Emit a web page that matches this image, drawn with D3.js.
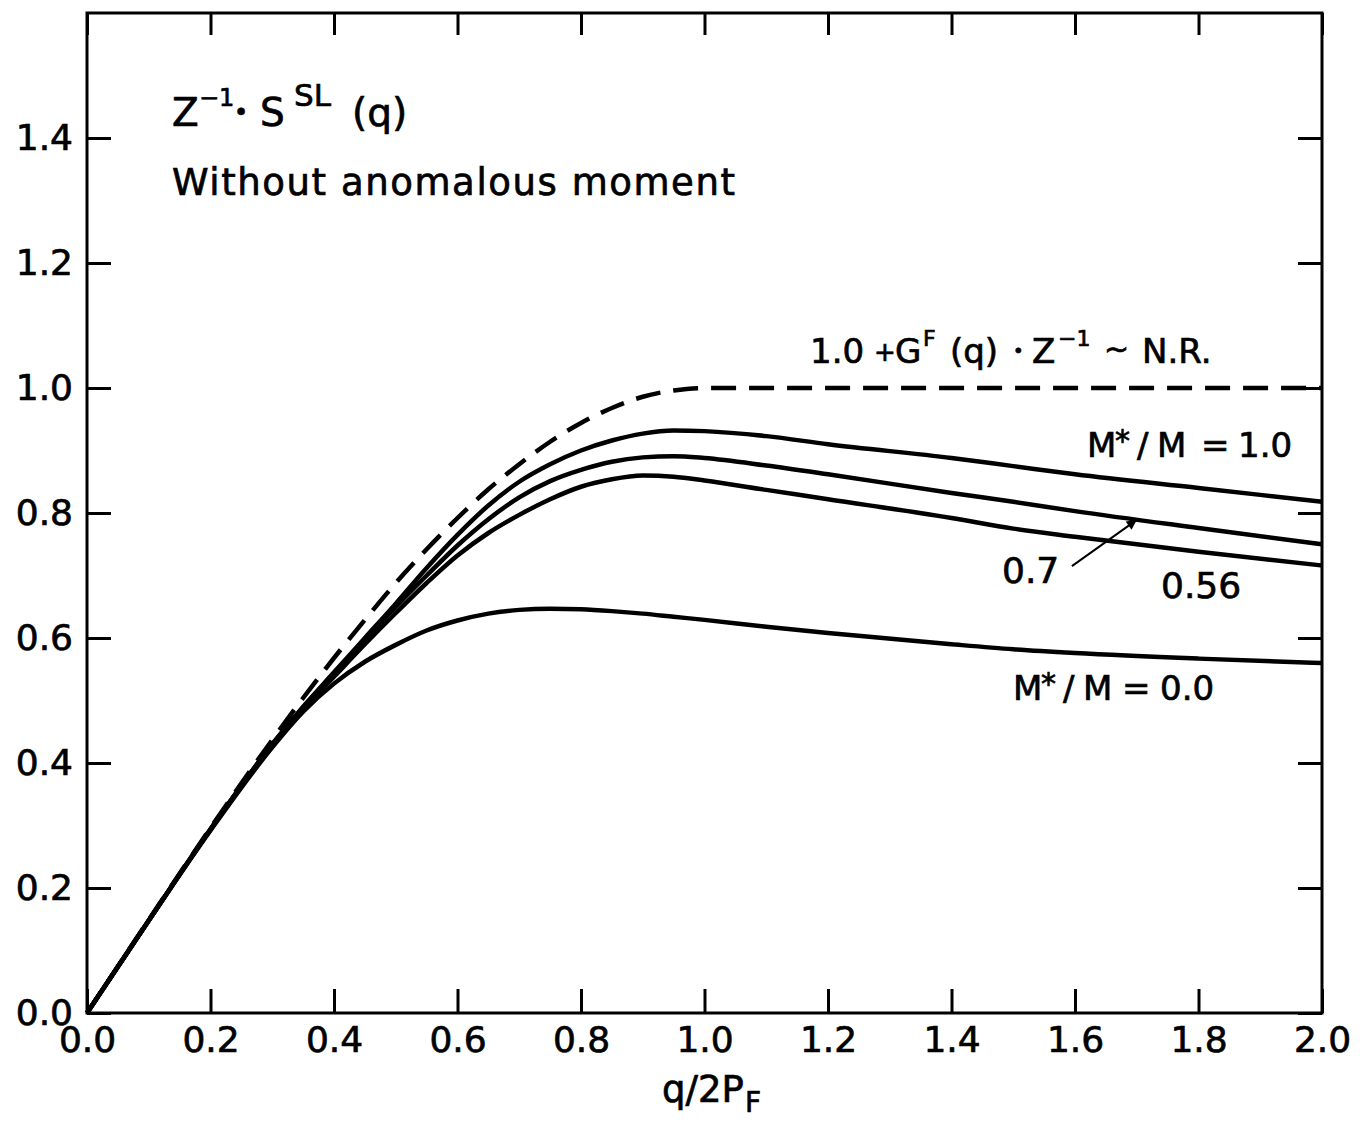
<!DOCTYPE html>
<html>
<head>
<meta charset="utf-8">
<script src="https://cdn.jsdelivr.net/npm/d3@7"></script>
<style>
body { margin: 0; background: #fff; }
text { font-family: "DejaVu Sans", sans-serif; fill: #000; stroke: #000; stroke-width: 0.7px; }
</style>
</head>
<body>
<div class="chart"></div>
<script>
// q / 2P_F grid the curves were read at
var qValues = [0, 0.1, 0.2, 0.3, 0.35, 0.4, 0.45, 0.5, 0.55, 0.6, 0.65, 0.7, 0.75, 0.8, 0.85, 0.9, 0.95, 1.0, 1.1, 1.2, 1.4, 1.5, 1.6, 1.8, 2.0];
// dashed: 1.0 + G^F(q) Z^-1 ~ N.R.
var nrValues   = [0, 0.149, 0.296, 0.437, 0.504, 0.568, 0.629, 0.688, 0.742, 0.792, 0.838, 0.878, 0.914, 0.944, 0.968, 0.986, 0.996, 1.0, 1.0, 1.0, 1.0, 1.0, 1.0, 1.0, 1.0];
// solid curves, M*/M = 1.0, 0.7, 0.56, 0.0
var m10Values  = [0, 0.148, 0.294, 0.430, 0.490, 0.545, 0.600, 0.655, 0.712, 0.765, 0.812, 0.850, 0.878, 0.900, 0.916, 0.927, 0.932, 0.931, 0.923, 0.910, 0.888, 0.875, 0.862, 0.840, 0.818];
var m07Values  = [0, 0.148, 0.294, 0.430, 0.489, 0.543, 0.597, 0.650, 0.700, 0.748, 0.790, 0.825, 0.851, 0.869, 0.882, 0.889, 0.891, 0.888, 0.876, 0.862, 0.832, 0.818, 0.803, 0.776, 0.750];
var m056Values = [0, 0.148, 0.294, 0.428, 0.486, 0.538, 0.590, 0.640, 0.688, 0.732, 0.768, 0.797, 0.822, 0.842, 0.854, 0.860, 0.858, 0.852, 0.837, 0.822, 0.792, 0.775, 0.762, 0.738, 0.716];
var m00Values  = [0, 0.148, 0.292, 0.425, 0.482, 0.527, 0.562, 0.589, 0.612, 0.628, 0.639, 0.645, 0.647, 0.646, 0.643, 0.639, 0.634, 0.629, 0.618, 0.608, 0.590, 0.582, 0.576, 0.567, 0.560];

var xTickValues = [0, 0.2, 0.4, 0.6, 0.8, 1.0, 1.2, 1.4, 1.6, 1.8, 2.0];
var yTickValues = [0, 0.2, 0.4, 0.6, 0.8, 1.0, 1.2, 1.4];
var arrowFrom = [1.595, 0.715];
var arrowTo = [1.700, 0.789];

var svg = d3.select('.chart')
	.append('svg')
	.attr('width', 1365)
	.attr('height', 1132)
	.style('background-color', '#fff');

var x = d3.scaleLinear().domain([0, 2]).range([87, 1322]);
var y = d3.scaleLinear().domain([0, 1.6]).range([1013, 13]);

function styleAxis(g, size) {
	g.select('.domain').remove();
	g.selectAll('.tick line').attr('stroke', '#000').attr('stroke-width', 3);
	g.selectAll('.tick text')
		.style('font-size', size + 'px')
		.style('font-family', '"DejaVu Sans", sans-serif')
		.attr('fill', '#000');
}

var fmt = d3.format('.1f');

// bottom and left axes with labels, ticks pointing inwards
svg.append('g')
	.attr('transform', 'translate(0,1013)')
	.call(d3.axisBottom(x).tickValues(xTickValues).tickSize(-24).tickPadding(13).tickFormat(fmt))
	.call(styleAxis, 36);

svg.append('g')
	.attr('transform', 'translate(87,0)')
	.call(d3.axisLeft(y).tickValues(yTickValues).tickSize(-24).tickPadding(14).tickFormat(fmt))
	.call(styleAxis, 36);

// top and right: ticks only
svg.append('g')
	.attr('transform', 'translate(0,13)')
	.call(d3.axisTop(x).tickValues(xTickValues).tickSize(-22).tickFormat(''))
	.call(styleAxis, 10);

svg.append('g')
	.attr('transform', 'translate(1322,0)')
	.call(d3.axisRight(y).tickValues(yTickValues).tickSize(-24).tickFormat(''))
	.call(styleAxis, 10);

svg.append('rect')
	.attr('x', x(0))
	.attr('y', y(1.6))
	.attr('width', x(2) - x(0))
	.attr('height', y(0) - y(1.6))
	.style('fill', 'none')
	.style('stroke', '#000')
	.style('stroke-width', 3);

var line = d3.line()
	.x(function (d) { return x(d[0]); })
	.y(function (d) { return y(d[1]); })
	.curve(d3.curveMonotoneX);

function pairs(vals) {
	return qValues.map(function (q, i) { return [q, vals[i]]; });
}

[m00Values, m056Values, m07Values, m10Values].forEach(function (vals) {
	svg.append('path')
		.datum(pairs(vals))
		.attr('d', line)
		.style('fill', 'none')
		.style('stroke', '#000')
		.style('stroke-width', 4.5)
		.style('stroke-linejoin', 'round');
});

svg.append('path')
	.datum(pairs(nrValues))
	.attr('d', line)
	.style('fill', 'none')
	.style('stroke', '#000')
	.style('stroke-width', 4.5)
	.style('stroke-dasharray', '25,13');

// arrow from the 0.7 label to its curve
svg.append('defs').append('marker')
	.attr('id', 'head')
	.attr('viewBox', '0 0 10 10')
	.attr('refX', 10)
	.attr('refY', 5)
	.attr('markerWidth', 16)
	.attr('markerHeight', 10)
	.attr('markerUnits', 'userSpaceOnUse')
	.attr('orient', 'auto')
	.append('path')
	.attr('d', 'M0,0 L10,5 L0,10 z')
	.style('fill', '#000');

svg.append('line')
	.attr('x1', x(arrowFrom[0]))
	.attr('y1', y(arrowFrom[1]))
	.attr('x2', x(arrowTo[0]))
	.attr('y2', y(arrowTo[1]))
	.style('stroke', '#000')
	.style('stroke-width', 2)
	.attr('marker-end', 'url(#head)');

// text made of pieces, some raised or lowered
function pieces(list, base, size) {
	var t = svg.append('text').style('font-size', size + 'px');
	list.forEach(function (p) {
		t.append('tspan')
			.attr('x', p[1])
			.attr('y', base + (p[2] || 0))
			.style('font-size', (p[3] || size) + 'px')
			.text(p[0]);
	});
	return t;
}

pieces([
	['Z', 172], ['\u22121', 199, -20, 24], ['\u2022', 234, -5, 24], ['S', 260], ['SL', 294, -20, 31], ['(q)', 352]
], 126, 39);

svg.append('text')
	.attr('x', 172)
	.attr('y', 195)
	.attr('textLength', 563)
	.attr('lengthAdjust', 'spacing')
	.style('font-size', '37px')
	.text('Without anomalous moment');

pieces([
	['1.0', 810], ['+', 874, -2, 26], ['G', 895], ['F', 923, -17, 22], ['(q)', 950], ['\u2022', 1013, -6, 18],
	['Z', 1032], ['\u22121', 1058, -17, 22], ['~', 1104, -4, 30], ['N.R.', 1142]
], 363, 34);

pieces([['M', 1087], ['*', 1115, -6, 30], ['/', 1137], ['M', 1157], ['=', 1201], ['1.0', 1238]], 457, 34);
pieces([['0.7', 1002]], 583, 36);
pieces([['0.56', 1161]], 598, 36);
pieces([['M', 1013], ['*', 1041, -6, 30], ['/', 1063], ['M', 1083], ['=', 1122], ['0.0', 1160]], 700, 34);

pieces([['q/2P', 662], ['F', 745, 10, 28]], 1102, 37);
</script>
</body>
</html>
